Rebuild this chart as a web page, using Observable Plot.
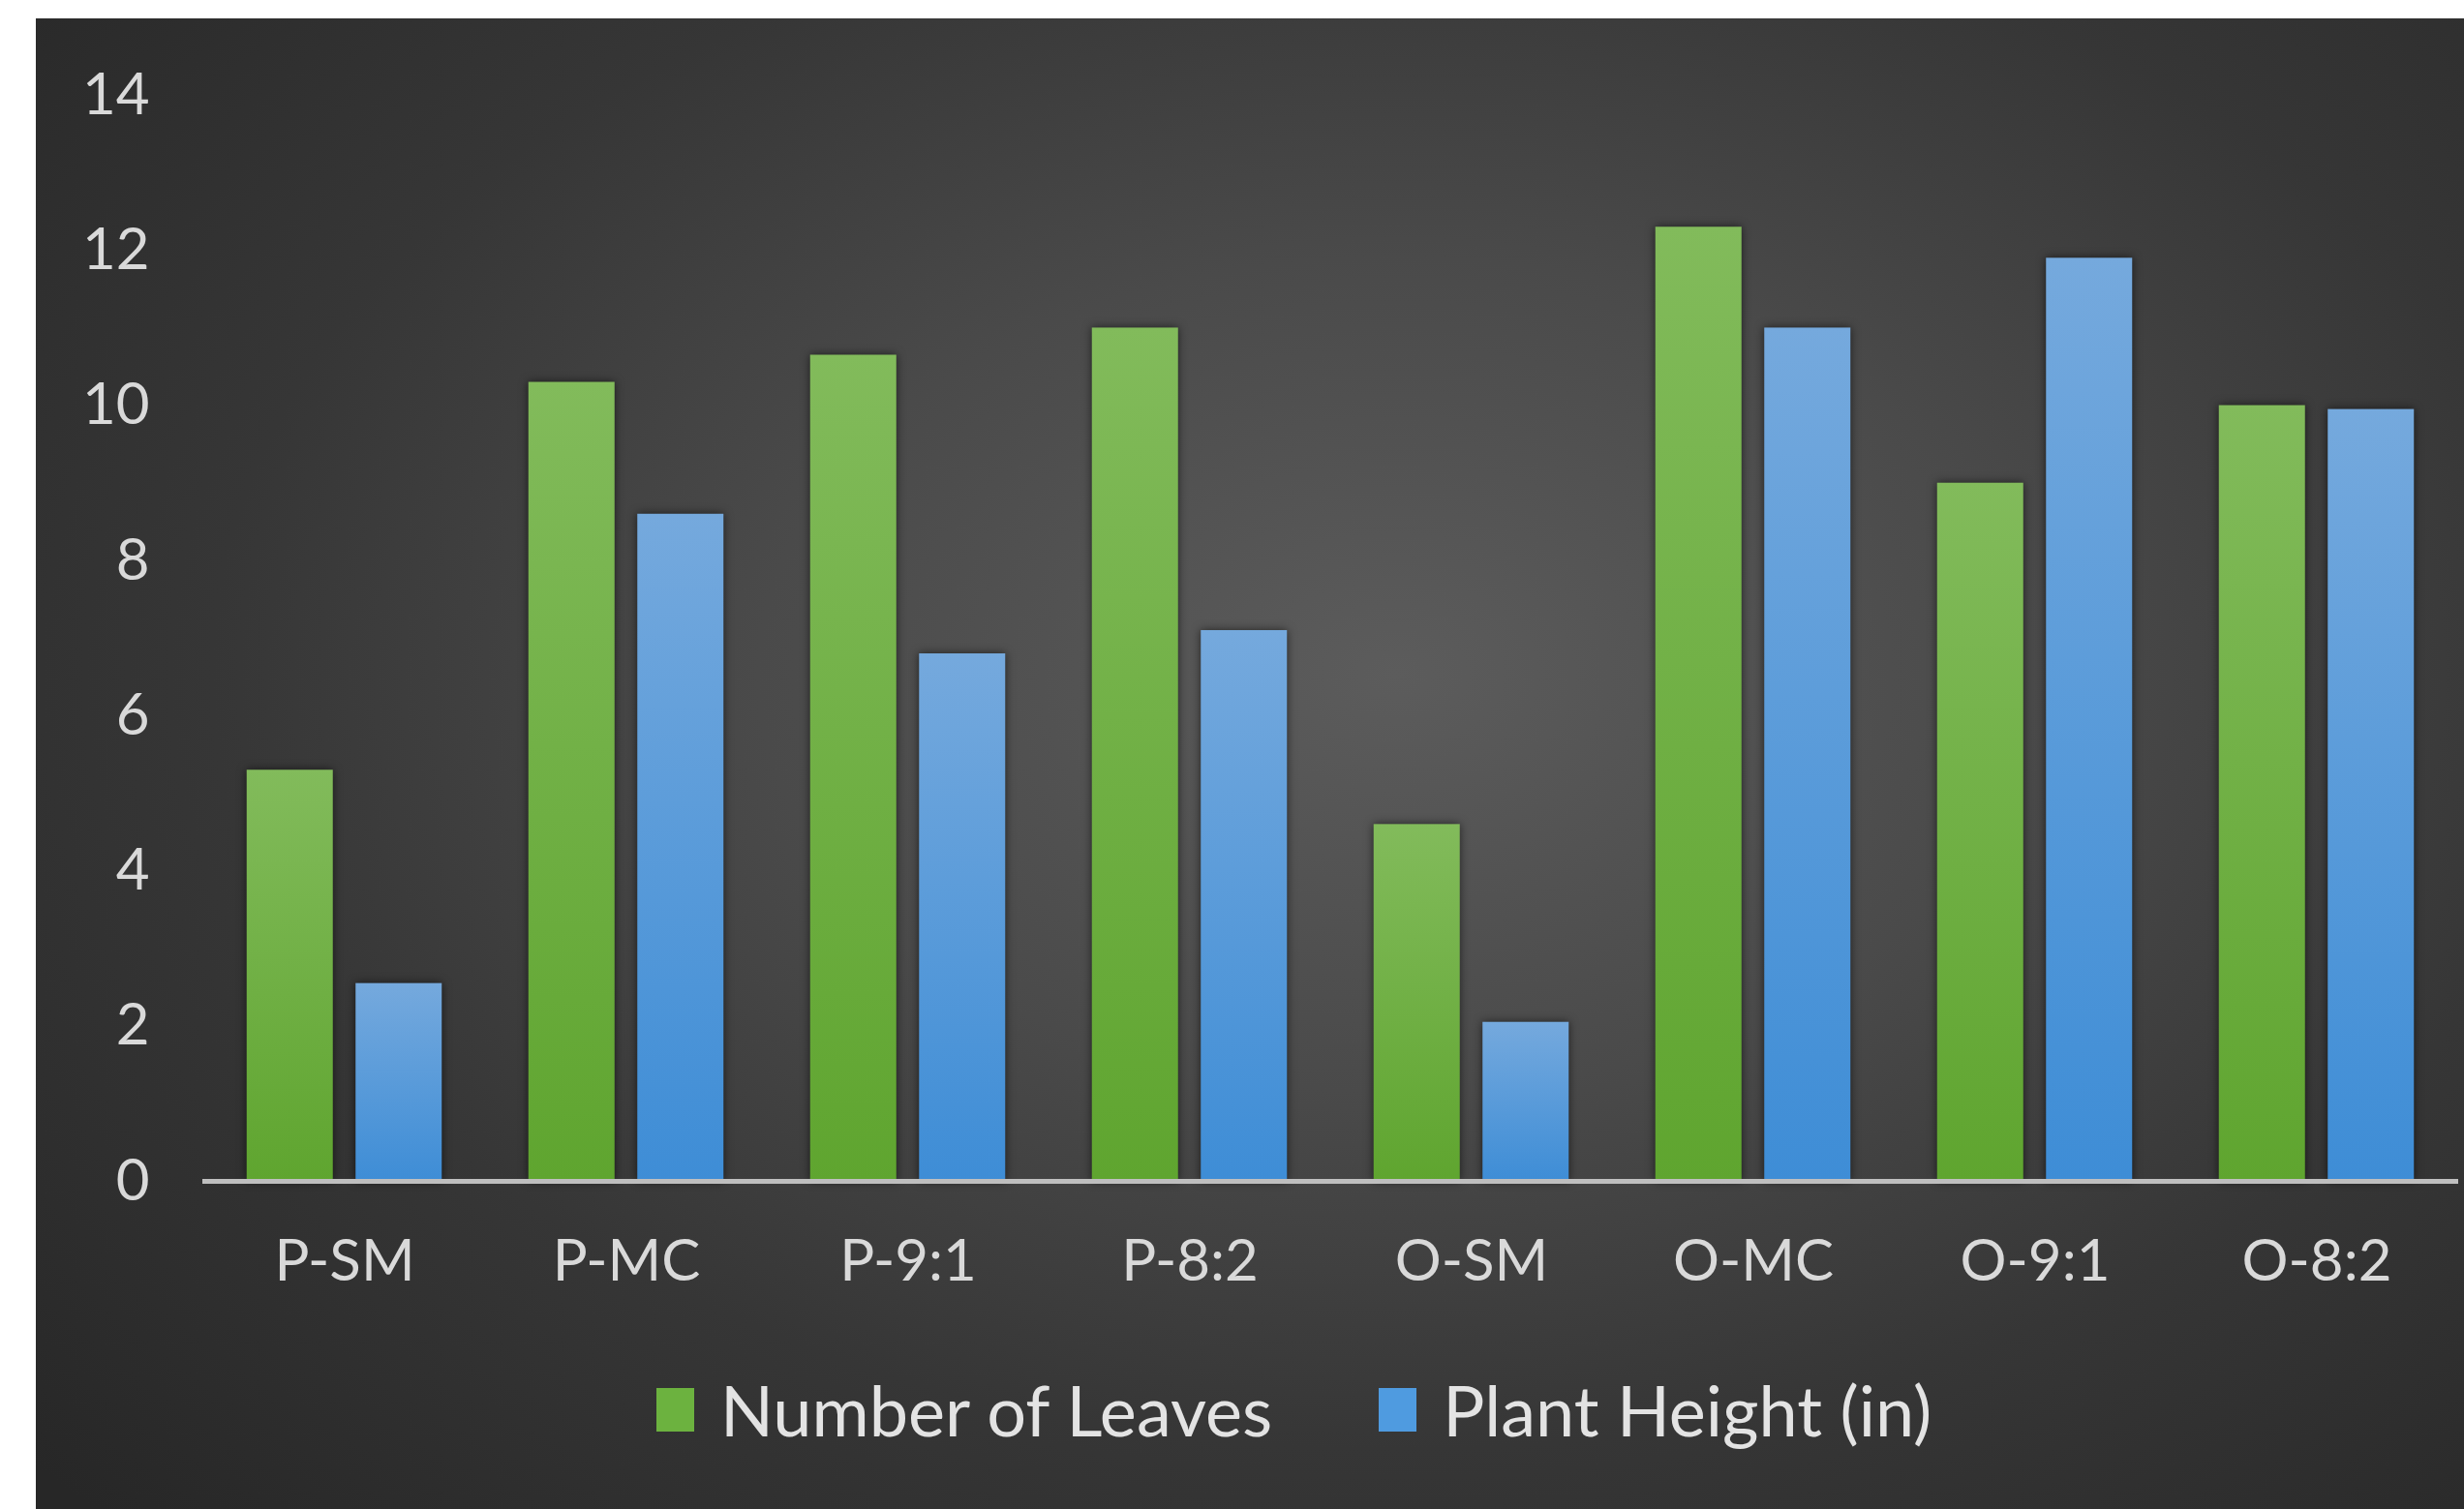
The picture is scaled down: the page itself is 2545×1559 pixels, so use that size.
<!DOCTYPE html>
<html>
<head>
<meta charset="utf-8">
<script src="https://cdn.jsdelivr.net/npm/d3@7"></script>
<script src="https://cdn.jsdelivr.net/npm/@observablehq/plot@0.6"></script>
<style>
  html, body { margin: 0; padding: 0; background: #ffffff; }
  #panel {
    position: absolute; left: 37px; top: 19px; width: 2508px; height: 1540px;
    background: radial-gradient(ellipse 75% 80% at 56% 44%, #5c5c5c 0%, #4a4a4a 35%, #363636 65%, #272727 100%);
    overflow: hidden;
    font-family: Lato, "Open Sans", sans-serif;
  }
  #chart svg { display: block; }
  #chart g[aria-label="bar"] { filter: drop-shadow(0 0 5px rgba(0,0,0,0.6)); }
  #legend {
    display: flex; align-items: center; margin-top: 34px; padding-left: 641px;
    font-family: Lato, "Open Sans", sans-serif; font-size: 72px; color: #e3e3e3;
  }
  .item { display: flex; align-items: center; }
  .swatch { width: 39px; height: 45px; margin-right: 27px; }
  .item + .item { margin-left: 110px; }
</style>
</head>
<body>
<div id="panel">
  <div id="chart"></div>
  <div id="legend"></div>
</div>
<script>
// ---- data ----
const categories = ["P-SM", "P-MC", "P-9:1", "P-8:2", "O-SM", "O-MC", "O-9:1", "O-8:2"];
const seriesNames = ["Number of Leaves", "Plant Height (in)"];
const leaves = [5.3, 10.3, 10.65, 11.0, 4.6, 12.3, 9.0, 10.0];
const plantHeight = [2.55, 8.6, 6.8, 7.1, 2.05, 11.0, 11.9, 9.95];
const yTicks = [0, 2, 4, 6, 8, 10, 12, 14];

const leavesData = categories.map((c, i) => ({category: c, value: leaves[i]}));
const heightData = categories.map((c, i) => ({category: c, value: plantHeight[i]}));

const plot = Plot.plot({
  width: 2508,
  height: 1360,
  marginLeft: 172,
  marginRight: 6,
  marginTop: 79,
  marginBottom: 159,
  style: {
    background: "transparent",
    color: "#d9d9d9",
    fontFamily: "Lato, 'Open Sans', sans-serif",
    fontSize: "60px",
    overflow: "visible"
  },
  x: {
    domain: categories,
    paddingInner: 0.693,
    paddingOuter: 0.3465,
    tickSize: 0,
    tickPadding: 60,
    label: null
  },
  y: {
    domain: [0, 14],
    ticks: yTicks,
    tickSize: 0,
    tickPadding: 55,
    label: null
  },
  marks: [
    Plot.barY(leavesData, {x: "category", y: "value", fill: "url(#gradGreen)", dx: -56.25}),
    Plot.barY(heightData, {x: "category", y: "value", fill: "url(#gradBlue)", dx: 56.25}),
    Plot.ruleY([0], {stroke: "#bfbfbf", strokeWidth: 5})
  ]
});

// gradients for the bars
const defs = d3.select(plot).insert("defs", ":first-child");
function grad(id, top, bottom) {
  const g = defs.append("linearGradient").attr("id", id)
    .attr("x1", 0).attr("y1", 0).attr("x2", 0).attr("y2", 1);
  g.append("stop").attr("offset", "0%").attr("stop-color", top);
  g.append("stop").attr("offset", "100%").attr("stop-color", bottom);
}
grad("gradGreen", "#82bb5b", "#5fa52f");
grad("gradBlue", "#75a9dd", "#3e8dd6");

document.getElementById("chart").appendChild(plot);

// legend
const legendColors = ["#6cb23f", "#4f9be0"];
const legend = d3.select("#legend");
seriesNames.forEach((name, i) => {
  const item = legend.append("div").attr("class", "item");
  item.append("div").attr("class", "swatch").style("background", legendColors[i]);
  item.append("span").text(name);
});
</script>
</body>
</html>
